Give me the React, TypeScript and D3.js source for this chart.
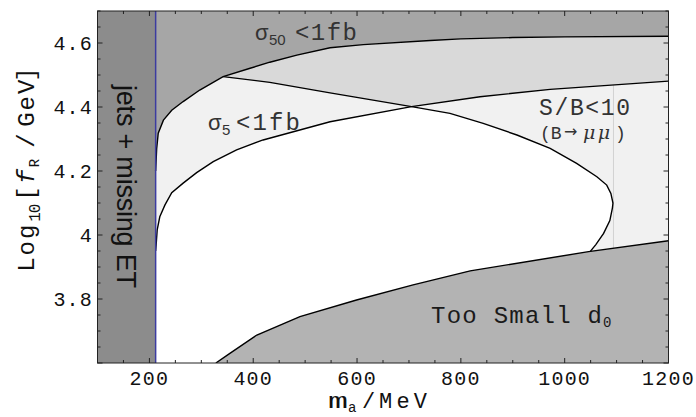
import React from "react";
import * as d3 from "d3";

const W = 696;
const H = 417;

// m_a in MeV, log10(f_R/GeV)
const jetsEdge = 212;

const sigma50M = [212, 214, 217, 227, 243, 265, 297, 342, 394, 432, 484, 548, 612, 741, 800, 900, 1000, 1200];
const sigma50F = [4.2, 4.27, 4.318, 4.359, 4.39, 4.417, 4.453, 4.495, 4.521, 4.54, 4.562, 4.585, 4.595, 4.608, 4.613, 4.617, 4.619, 4.621];

const sigma5M = [212, 213, 215, 220, 230, 243, 265, 291, 323, 368, 419, 548, 705, 837, 972, 1200];
const sigma5F = [3.95, 3.97, 4.016, 4.057, 4.094, 4.132, 4.162, 4.195, 4.229, 4.266, 4.297, 4.354, 4.401, 4.432, 4.455, 4.481];

const sbM = [342, 432, 548, 705, 779, 843, 908, 972, 1023, 1062, 1081, 1089, 1093, 1092, 1087, 1075, 1060, 1049];
const sbF = [4.495, 4.477, 4.444, 4.401, 4.38, 4.349, 4.3125, 4.271, 4.224, 4.182, 4.156, 4.13, 4.1, 4.085, 4.045, 4.005, 3.97, 3.948];

const d0M = [328, 355, 407, 490, 599, 708, 818, 1046, 1200];
const d0F = [3.6, 3.63, 3.6875, 3.745, 3.797, 3.844, 3.888, 3.948, 3.982];

// faint vertical seam in the S/B region
const seamM = 1094;
const seamTop = 4.469;
const seamBottom = 3.95;

const xMajor = [200, 400, 600, 800, 1000, 1200];
const xLabels = ["200", "400", "600", "800", "1000", "1200"];
const yMajor = [3.8, 4.0, 4.2, 4.4, 4.6];
const yLabels = ["3.8", "4", "4.2", "4.4", "4.6"];

const mono = "'Liberation Mono', 'Courier New', monospace";
const sans = "'Liberation Sans', Arial, sans-serif";
const serif = "'DejaVu Serif', 'Liberation Serif', serif";

const x = d3.scaleLinear().domain([100, 1200]).range([97.5, 668.5]);
const y = d3.scaleLinear().domain([3.6, 4.7]).range([363, 11]);

const zip = (a: number[], b: number[]) => a.map((v, i) => [v, b[i]] as [number, number]);
const line = d3.line<[number, number]>().x(d => x(d[0])).y(d => y(d[1]));

export default function App() {
  const [xMin, xMax] = x.domain();
  const [yMin, yMax] = y.domain();

  const s50 = zip(sigma50M, sigma50F);
  const s5 = zip(sigma5M, sigma5F);
  const sb = zip(sbM, sbF);
  const d0 = zip(d0M, d0F);

  const s50Region = line([...s50, [xMax, yMax], [jetsEdge, yMax]]) + "Z";
  const s5Region = line([...s5, [xMax, yMax], [jetsEdge, yMax]]) + "Z";
  const sbRegion = line([...sb, [xMax, yMin], [xMax, yMax], [sbM[0], yMax]]) + "Z";
  const d0Region = line([...d0, [xMax, yMin], [d0M[0], yMin]]) + "Z";

  const xMinor = d3.range(xMin, xMax + 1, 50);
  const yMinor = d3.range(0, 23).map(i => yMin + i * 0.05);

  const left = x(xMin), right = x(xMax), top = y(yMax), bottom = y(yMin);

  return (
    <svg width={W} height={H} style={{ position: "absolute", left: 0, top: 0 }}>
      <defs>
        <clipPath id="sbClip">
          <path d={sbRegion} />
        </clipPath>
        <clipPath id="plotClip">
          <rect x={left} y={top} width={right - left} height={bottom - top} />
        </clipPath>
      </defs>

      <g clipPath="url(#plotClip)">
        <rect x={left} y={top} width={right - left} height={bottom - top} fill="#ffffff" />
        <path d={s5Region} fill="#f1f1f1" />
        <path d={sbRegion} fill="#f1f1f1" />
        <path d={s5Region} fill="#d9d9d9" clipPath="url(#sbClip)" />
        <line x1={x(seamM)} x2={x(seamM)} y1={y(seamTop)} y2={y(seamBottom)} stroke="#d2d2d2" strokeWidth={1} />
        <path d={s50Region} fill="#a6a6a6" />
        <path d={d0Region} fill="#b3b3b3" />
        <rect x={left} y={top} width={x(jetsEdge) - left} height={bottom - top} fill="#8c8c8c" />

        <path d={line(s50) || ""} fill="none" stroke="#000" strokeWidth={1.4} />
        <path d={line(s5) || ""} fill="none" stroke="#000" strokeWidth={1.4} />
        <path d={line(sb) || ""} fill="none" stroke="#000" strokeWidth={1.4} />
        <path d={line(d0) || ""} fill="none" stroke="#000" strokeWidth={1.4} />
        <line x1={x(jetsEdge)} x2={x(jetsEdge)} y1={top} y2={bottom} stroke="#3c3ca0" strokeWidth={1.5} />
      </g>

      {/* frame and inward ticks */}
      <rect x={left} y={top} width={right - left} height={bottom - top} fill="none" stroke="#222" strokeWidth={1} />
      {xMinor.map(v => {
        const len = xMajor.includes(v) ? 5 : 3;
        return (
          <g key={"xt" + v} stroke="#222" strokeWidth={1}>
            <line x1={x(v)} x2={x(v)} y1={bottom} y2={bottom - len} />
            <line x1={x(v)} x2={x(v)} y1={top} y2={top + len} />
          </g>
        );
      })}
      {yMinor.map((v, i) => {
        const len = i % 4 === 0 ? 5 : 3;
        return (
          <g key={"yt" + i} stroke="#222" strokeWidth={1}>
            <line x1={left} x2={left + len} y1={y(v)} y2={y(v)} />
            <line x1={right} x2={right - len} y1={y(v)} y2={y(v)} />
          </g>
        );
      })}

      {xMajor.map((v, i) => (
        <text key={"xl" + v} x={x(v)} y={385} textAnchor="middle" fontFamily={mono} fontSize={20} letterSpacing={1.2} fill="#111">
          {xLabels[i]}
        </text>
      ))}
      {yMajor.map((v, i) => (
        <text key={"yl" + v} x={93} y={y(v) + 6.5} textAnchor="end" fontFamily={mono} fontSize={20} letterSpacing={1.2} fill="#111">
          {yLabels[i]}
        </text>
      ))}

      {/* axis titles */}
      <g fill="#111" fontFamily={mono}>
        <text x={328} y={408} fontSize={22} textLength={20} lengthAdjust="spacingAndGlyphs">m</text>
        <text x={348} y={412} fontSize={14}>a</text>
        <text x={362} y={408} fontSize={22}>/</text>
        <text x={379} y={408} fontSize={22} textLength={48}>MeV</text>
      </g>
      <g fill="#111" fontFamily={mono} transform="translate(34,271.7) rotate(-90)">
        <text x={0} y={0} fontSize={24} textLength={47}>Log</text>
        <text x={50} y={6} fontSize={16} textLength={18}>10</text>
        <text x={71} y={0} fontSize={24}>[</text>
        <text x={88} y={0} fontSize={24} fontStyle="italic">f</text>
        <text x={104.5} y={5} fontSize={14}>R</text>
        <text x={124} y={0} fontSize={24}>/</text>
        <text x={145} y={0} fontSize={24} textLength={47}>GeV</text>
        <text x={190} y={0} fontSize={24}>]</text>
      </g>

      {/* region labels */}
      <text transform="translate(116.7,186.5) rotate(90)" textAnchor="middle" fontFamily={sans} fontSize={27} textLength={203} fill="#111">
        jets + missing ET
      </text>

      <g fill="#333">
        <text x={255} y={40} fontFamily={sans} fontSize={22}>σ</text>
        <text x={269} y={45} fontFamily={sans} fontSize={15}>50</text>
        <text x={295} y={40} fontFamily={mono} fontSize={24} textLength={62}>&lt;1fb</text>

        <text x={208} y={130} fontFamily={sans} fontSize={22}>σ</text>
        <text x={222} y={135} fontFamily={sans} fontSize={15}>5</text>
        <text x={236} y={130} fontFamily={mono} fontSize={24} textLength={64}>&lt;1fb</text>

        <text x={539} y={115} fontFamily={mono} fontSize={23} textLength={91}>S/B&lt;10</text>
        <text x={540} y={138.5} fontFamily={mono} fontSize={18}>(B</text>
        <text x={564} y={137} fontFamily="'DejaVu Sans', sans-serif" fontSize={16}>→</text>
        <text x={583} y={138.5} fontFamily={serif} fontStyle="italic" fontSize={19} textLength={27}>μμ</text>
        <text x={615} y={138.5} fontFamily={mono} fontSize={18}>)</text>
      </g>

      <g fill="#1a1a1a" fontFamily={mono}>
        <text x={431} y={322.7} fontSize={24} textLength={171}>Too Small d</text>
        <text x={603} y={327} fontSize={14}>0</text>
      </g>
    </svg>
  );
}
